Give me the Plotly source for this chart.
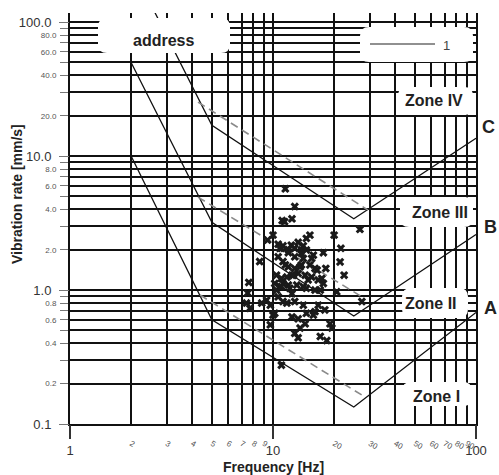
import plotly.graph_objects as go

# ---------------- data ----------------
grid_x = [1, 2, 3, 4, 5, 6, 7, 8, 9, 10, 20, 30, 40, 50, 60, 70, 80, 90, 100]
x_small_vals = [2, 3, 4, 5, 6, 7, 8, 9, 20, 30, 40, 50, 60, 70, 80, 90]
x_major_vals = [1, 10, 100]
x_major_text = ["1", "10", "100"]

grid_y = [0.1, 0.2, 0.3, 0.4, 0.5, 0.6, 0.7, 0.8, 0.9,
          1, 2, 3, 4, 5, 6, 7, 8, 9,
          10, 20, 30, 40, 50, 60, 70, 80, 90, 100]
y_small_vals = [0.2, 0.4, 0.6, 0.8, 2, 4, 6, 8, 20, 40, 60, 80]
y_small_text = ["0.2", "0.4", "0.6", "0.8", "2.0", "4.0", "6.0", "8.0",
                "20.0", "40.0", "60.0", "80.0"]
y_major_vals = [0.1, 1, 10, 100]
y_major_text = ["0.1", "1.0", "10.0", "100.0"]

# zone boundary lines (frequency Hz, vibration mm/s)
line_freq = [2, 5, 25, 100]
line_A = [10, 0.6, 0.134, 0.68]
line_B = [50, 3.2, 0.64, 2.6]
line_C = [265, 17, 3.4, 13.6]

# dashed reference lines
dash_A_freq = [4.37, 28.4]
dash_A_vel = [0.918, 0.159]
dash_B_freq = [4.27, 28.1]
dash_B_vel = [4.94, 0.87]
dash_C_freq = [4.27, 29.4]
dash_C_vel = [25.3, 3.95]

# measured points
meas_freq = [11.5, 12.8, 11.1, 11.4, 12.4, 20.0, 15.2, 14.6, 10.0, 9.4,
             10.6, 11.2, 12.3, 13.3, 14.1, 21.6, 26.8, 17.7, 21.4, 22.4,
             27.4, 18.2, 16.5, 8.6, 7.6, 7.5, 7.4, 7.7, 8.8, 9.3,
             9.7, 9.7, 10.0, 10.2, 10.8, 11.9, 13.8, 12.8, 14.1, 15.8,
             10.6, 11.2, 11.9, 12.8, 13.6, 15.2, 16.1, 10.4, 11.0, 11.7,
             12.4, 13.3, 14.4, 14.9, 16.7, 17.7, 10.2, 10.8, 11.9, 13.1,
             14.1, 12.1, 10.6, 11.7, 12.8, 14.1, 14.6, 16.1, 17.1, 20.6,
             12.4, 13.3, 14.6, 16.1, 16.7, 18.0, 14.4, 13.6, 12.8, 13.3,
             17.1, 18.4, 19.1, 19.5, 11.0, 15.8, 11.2, 10.4, 12.4, 17.4,
             11.9, 12.8, 13.8, 14.6, 11.0, 15.5, 13.8, 11.5, 15.5, 12.6,
             11.2, 11.0]
meas_vel = [5.7, 4.2, 3.3, 3.24, 3.4, 2.57, 2.57, 2.43, 2.57, 2.36,
            2.2, 2.14, 2.16, 2.27, 2.14, 2.05, 2.84, 1.9, 1.62, 1.29,
            0.82, 1.45, 1.41, 1.63, 1.14, 0.95, 0.80, 0.73, 0.80, 0.84,
            0.77, 0.55, 0.65, 0.67, 2.05, 2.0, 1.99, 1.77, 1.72, 1.82,
            1.77, 1.63, 1.49, 1.45, 1.49, 1.54, 1.45, 1.29, 1.22, 1.25,
            1.29, 1.33, 1.29, 1.19, 1.19, 1.12, 1.12, 1.06, 1.09, 1.09,
            1.06, 1.03, 0.89, 0.80, 0.82, 0.77, 1.03, 1.0, 1.0, 0.97,
            0.63, 0.61, 0.67, 0.69, 0.77, 0.71, 0.56, 0.52, 0.475, 0.44,
            0.45, 0.42, 0.56, 0.52, 0.275, 0.65, 0.82, 1.0, 0.94, 1.22,
            1.9, 2.05, 1.88, 1.99, 2.05, 1.72, 1.54, 1.54, 1.25, 1.29,
            1.12, 1.06]

zone_names = ["Zone IV", "Zone III", "Zone II", "Zone I"]
curve_names = ["C", "B", "A"]
legend_label = "1"
box_title = "address"

# ---------------- layout geometry (pixels) ----------------
W, H = 499, 475
ML, MR, MT, MB = 70, 23, 13, 51
PW = W - ML - MR
PH = H - MT - MB
FONT = "Liberation Sans, Arial, Helvetica, sans-serif"


def px_x(px):
    return (px - ML) / PW


def px_y(py):
    return (H - MB - py) / PH


def rounded_box(x0, y0, x1, y1, r=9):
    X0, X1 = px_x(x0), px_x(x1)
    Yt, Yb = px_y(y0), px_y(y1)
    rx, ry = r / PW, r / PH
    path = (f"M {X0+rx},{Yt} L {X1-rx},{Yt} Q {X1},{Yt} {X1},{Yt-ry} "
            f"L {X1},{Yb+ry} Q {X1},{Yb} {X1-rx},{Yb} L {X0+rx},{Yb} "
            f"Q {X0},{Yb} {X0},{Yb+ry} L {X0},{Yt-ry} Q {X0},{Yt} {X0+rx},{Yt} Z")
    return dict(type="path", xref="paper", yref="paper", path=path,
                fillcolor="white", line=dict(width=0), layer="above")


fig = go.Figure()

solid = dict(color="#111", width=1.3)
for vals in (line_A, line_B, line_C):
    fig.add_trace(go.Scatter(x=line_freq, y=vals, mode="lines", line=solid,
                             showlegend=False, hoverinfo="skip"))

dash = dict(color="#8a8a8a", width=1.6, dash="8px,5px")
for fx, vy in ((dash_A_freq, dash_A_vel), (dash_B_freq, dash_B_vel),
               (dash_C_freq, dash_C_vel)):
    fig.add_trace(go.Scatter(x=fx, y=vy, mode="lines", line=dash,
                             showlegend=False, hoverinfo="skip"))

fig.add_trace(go.Scatter(x=meas_freq, y=meas_vel, mode="markers",
                         marker=dict(symbol="x", size=7.5, color="#1a1a1a",
                                     line=dict(width=0)),
                         showlegend=False))

# invisible trace to hold the overlay axes
fig.add_trace(go.Scatter(x=[10], y=[1], xaxis="x2", yaxis="y2", mode="markers",
                         marker=dict(opacity=0), showlegend=False,
                         hoverinfo="skip"))

x_range = [0, 2]
y_range = [-1, 2.068]

fig.update_layout(
    width=W, height=H,
    margin=dict(l=ML, r=MR, t=MT, b=MB, pad=0),
    paper_bgcolor="white", plot_bgcolor="white",
    font=dict(family=FONT, color="#333"),
    xaxis=dict(type="log", range=x_range,
               tickmode="array", tickvals=grid_x,
               ticktext=[str(v) if v in x_small_vals else "" for v in grid_x],
               ticks="outside", ticklen=10, tickcolor="rgba(0,0,0,0)",
               tickfont=dict(size=8, color="#555"),
               showgrid=True, gridcolor="#111", gridwidth=2.2,
               showline=True, linecolor="#111", linewidth=2,
               zeroline=False, automargin=False),
    xaxis2=dict(type="log", range=x_range, overlaying="x", anchor="y",
                side="bottom", tickmode="array", tickvals=x_major_vals,
                ticktext=x_major_text, ticks="outside", ticklen=14,
                tickwidth=1.5, tickcolor="#333",
                tickfont=dict(size=13, color="#333"),
                showgrid=False, showline=False, zeroline=False,
                automargin=False),
    yaxis=dict(type="log", range=y_range,
               tickmode="array", tickvals=grid_y,
               ticktext=[y_small_text[y_small_vals.index(v)] if v in y_small_vals else ""
                         for v in grid_y],
               ticks="outside", ticklen=8, tickwidth=1, tickcolor="#777",
               ticklabelstandoff=2,
               tickfont=dict(size=8, color="#555"),
               showgrid=True, gridcolor="#111", gridwidth=2.2,
               showline=True, linecolor="#111", linewidth=2, mirror=True,
               zeroline=False, automargin=False),
    yaxis2=dict(type="log", range=y_range, overlaying="y", anchor="x",
                side="left", tickmode="array", tickvals=y_major_vals,
                ticktext=y_major_text, ticks="outside", ticklen=10,
                tickwidth=1, tickcolor="#777", ticklabelstandoff=5,
                tickfont=dict(size=13, color="#333"),
                showgrid=False, showline=False, zeroline=False,
                automargin=False),
    showlegend=False,
)

shapes = [
    rounded_box(98, 18, 230, 53),      # address
    rounded_box(360, 27, 473, 62),     # legend
    rounded_box(398, 87, 473, 115),    # Zone IV
    rounded_box(400, 197, 473, 227),   # Zone III
    rounded_box(402, 288, 468, 318),   # Zone II
    rounded_box(402, 382, 472, 406),   # Zone I
]
shapes.append(dict(type="line", xref="paper", yref="paper",
                   x0=px_x(370), x1=px_x(435), y0=px_y(44), y1=px_y(44),
                   line=dict(color="#222", width=1.2), layer="above"))
fig.update_layout(shapes=shapes)


def label(text, px, py, size, color="#222", angle=0):
    return dict(text=text, x=px_x(px), y=px_y(py), xref="paper", yref="paper",
                xanchor="center", yanchor="middle", showarrow=False,
                textangle=angle, font=dict(size=size, color=color, family=FONT))


ann = []
zone_pos = [(434, 101), (440, 213), (431, 303), (436, 396)]
for name, (ax_, ay_) in zip(zone_names, zone_pos):
    ann.append(label(f"<b>{name}</b>", ax_, ay_, 16))
curve_pos = [(488, 127), (490, 227), (491, 308)]
for name, (ax_, ay_) in zip(curve_names, curve_pos):
    ann.append(label(f"<b>{name}</b>", ax_, ay_, 18))
ann.append(label(f"<b>{box_title}</b>", 163, 40, 16))
ann.append(label(legend_label, 446, 45, 13, "#444"))
ann.append(label("<b>Frequency [Hz]</b>", 273, 467, 14))
ann.append(label("<b>Vibration rate [mm/s]</b>", 17, 194, 14, angle=-90))
fig.update_layout(annotations=ann)

fig.write_html("out.html",
               config={"displayModeBar": False},
               post_script="document.body.style.margin='0px';"
                           "document.body.style.overflow='hidden';")
